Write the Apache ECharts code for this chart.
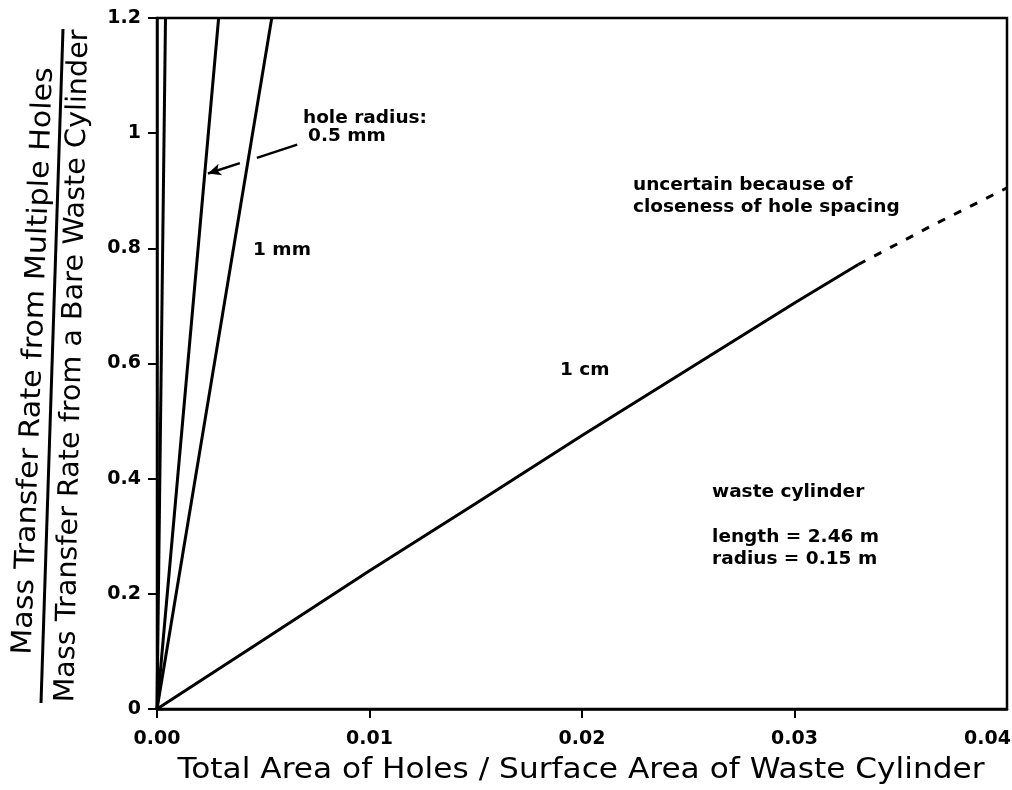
<!DOCTYPE html>
<html><head><meta charset="utf-8">
<script src="https://cdn.jsdelivr.net/npm/echarts@6/dist/echarts.min.js"></script>
<style>html,body{margin:0;padding:0;background:#fff}#c{width:1012px;height:790px}</style>
</head><body><div id="c"></div>
<script>
// ---- data ----
const xMin = 0, xMax = 0.04, xStep = 0.01;
const yMin = 0, yMax = 1.2, yStep = 0.2;

// steepest (unlabelled) line
const xSteep = [0, 0.0004];
const ySteep = [0, 1.2];
// hole radius 0.5 mm
const x05mm = [0, 0.0029];
const y05mm = [0, 1.2];
// hole radius 1 mm
const x1mm = [0, 0.0054];
const y1mm = [0, 1.2];
// hole radius 1 cm (solid part)
const x1cm = [0, 0.005, 0.01, 0.015, 0.02, 0.025, 0.03, 0.033];
const y1cm = [0, 0.12, 0.24, 0.357, 0.475, 0.59, 0.705, 0.772];
// hole radius 1 cm (uncertain, dashed part)
const x1cmDash = [0.033, 0.0365, 0.04];
const y1cmDash = [0.772, 0.84, 0.905];

// arrow from "hole radius: 0.5 mm" to the 0.5 mm line (with gap where it crosses 1 mm line)
const arrowStart = [0.0066, 0.98];
const arrowGapA = [0.0047, 0.957];
const arrowGapB = [0.0039, 0.948];
const arrowTip = [0.0024, 0.93];

const xTitle = 'Total Area of Holes / Surface Area of Waste Cylinder';
const yTitleTop = 'Mass Transfer Rate from Multiple Holes';
const yTitleBottom = 'Mass Transfer Rate from a Bare Waste Cylinder';

// annotations: [text, x, y] in data coordinates (left edge, vertical middle)
const notes = [
  ['hole radius:', 0.00687, 1.026],
  ['0.5 mm', 0.00711, 0.995],
  ['1 mm', 0.00452, 0.796],
  ['1 cm', 0.01896, 0.588],
  ['uncertain because of', 0.02240, 0.910],
  ['closeness of hole spacing', 0.02240, 0.872],
  ['waste cylinder', 0.02612, 0.376],
  ['length = 2.46 m', 0.02612, 0.299],
  ['radius = 0.15 m', 0.02612, 0.261]
];

// ---- chart ----
const zip = (xs, ys) => xs.map((x, i) => [x, ys[i]]);
const chart = echarts.init(document.getElementById('c'), null, {renderer: 'canvas'});
const FONT = '"DejaVu Sans", sans-serif';
const LABEL_SIZE = 19, X_MARGIN = 21;
const lineSeries = (name, xs, ys, dashed) => ({
  name, type: 'line', data: zip(xs, ys), showSymbol: false, symbol: 'none',
  clip: true, silent: true,
  lineStyle: {color: '#000', width: 3, type: dashed ? [8, 10] : 'solid'}
});

const s05 = lineSeries('0.5 mm', x05mm, y05mm, false);
s05.markLine = {
  silent: true, animation: false,
  lineStyle: {color: '#000', width: 2.5, type: 'solid'},
  label: {show: false},
  symbolSize: [9, 13],
  data: [
    [{coord: arrowStart, symbol: 'none'}, {coord: arrowGapA, symbol: 'none'}],
    [{coord: arrowGapB, symbol: 'none'}, {coord: arrowTip, symbol: 'arrow'}]
  ]
};

chart.setOption({
  animation: false,
  backgroundColor: '#fff',
  grid: {left: 157, right: 5, top: 18, bottom: 81, show: true, borderColor: '#000', borderWidth: 2.5,
    containLabel: false, outerBoundsMode: 'none'},
  xAxis: {
    type: 'value', min: xMin, max: xMax, interval: xStep,
    axisLine: {show: true, lineStyle: {color: '#000', width: 2.5}},
    axisTick: {show: true, inside: false, length: 9, lineStyle: {color: '#000', width: 2}},
    splitLine: {show: false},
    axisLabel: {margin: X_MARGIN, color: '#000', fontFamily: FONT, fontWeight: 'bold', fontSize: LABEL_SIZE,
      showMaxLabel: false, formatter: v => v.toFixed(2)}
  },
  yAxis: {
    type: 'value', min: yMin, max: yMax, interval: yStep,
    axisLine: {show: true, lineStyle: {color: '#000', width: 2.5}},
    axisTick: {show: true, inside: false, length: 9, lineStyle: {color: '#000', width: 2}},
    splitLine: {show: false},
    axisLabel: {margin: 16, color: '#000', fontFamily: FONT, fontWeight: 'bold', fontSize: LABEL_SIZE,
      formatter: v => (Math.abs(v - Math.round(v)) < 1e-9 ? String(Math.round(v)) : v.toFixed(1))}
  },
  series: [
    lineSeries('steep', xSteep, ySteep, false),
    s05,
    lineSeries('1 mm', x1mm, y1mm, false),
    lineSeries('1 cm', x1cm, y1cm, false),
    lineSeries('1 cm uncertain', x1cmDash, y1cmDash, true)
  ]
});

// fit title text widths
const cv = document.createElement('canvas').getContext('2d');
function fitScale(text, size, target) {
  cv.font = size + 'px ' + FONT;
  return target / cv.measureText(text).width;
}
const TS = 28;
const deg = Math.PI / 180;
const graphics = [];
graphics.push({type: 'text', x: 581, y: 771, scaleX: fitScale(xTitle, TS, 807),
  style: {text: xTitle, font: TS + 'px ' + FONT, fill: '#000', align: 'center', verticalAlign: 'middle',
    textAlign: 'center', textVerticalAlign: 'middle'}});
graphics.push({type: 'text', x: 34, y: 361, rotation: 87.9 * deg, scaleX: fitScale(yTitleTop, TS, 588),
  style: {text: yTitleTop, font: TS + 'px ' + FONT, fill: '#000', align: 'center', verticalAlign: 'middle',
    textAlign: 'center', textVerticalAlign: 'middle'}});
graphics.push({type: 'text', x: 73, y: 366, rotation: 88.8 * deg, scaleX: fitScale(yTitleBottom, TS, 673),
  style: {text: yTitleBottom, font: TS + 'px ' + FONT, fill: '#000', align: 'center', verticalAlign: 'middle',
    textAlign: 'center', textVerticalAlign: 'middle'}});
graphics.push({type: 'line', shape: {x1: 41, y1: 703, x2: 63, y2: 29}, style: {stroke: '#000', lineWidth: 3}});

// last x tick label, kept inside the page (right-aligned to the page edge)
const pMax = chart.convertToPixel({gridIndex: 0}, [xMax, yMin]);
graphics.push({type: 'text', x: 1011, y: pMax[1] + X_MARGIN,
  style: {text: xMax.toFixed(2), font: 'bold ' + LABEL_SIZE + 'px ' + FONT, fill: '#000',
    align: 'right', verticalAlign: 'top', textAlign: 'right', textVerticalAlign: 'top'}});

notes.forEach(([t, x, y]) => {
  const p = chart.convertToPixel({gridIndex: 0}, [x, y]);
  graphics.push({type: 'text', x: p[0], y: p[1],
    style: {text: t, font: 'bold 18.5px ' + FONT, fill: '#000', align: 'left', verticalAlign: 'middle',
      textAlign: 'left', textVerticalAlign: 'middle'}});
});
chart.setOption({graphic: graphics});
</script>
</body></html>
